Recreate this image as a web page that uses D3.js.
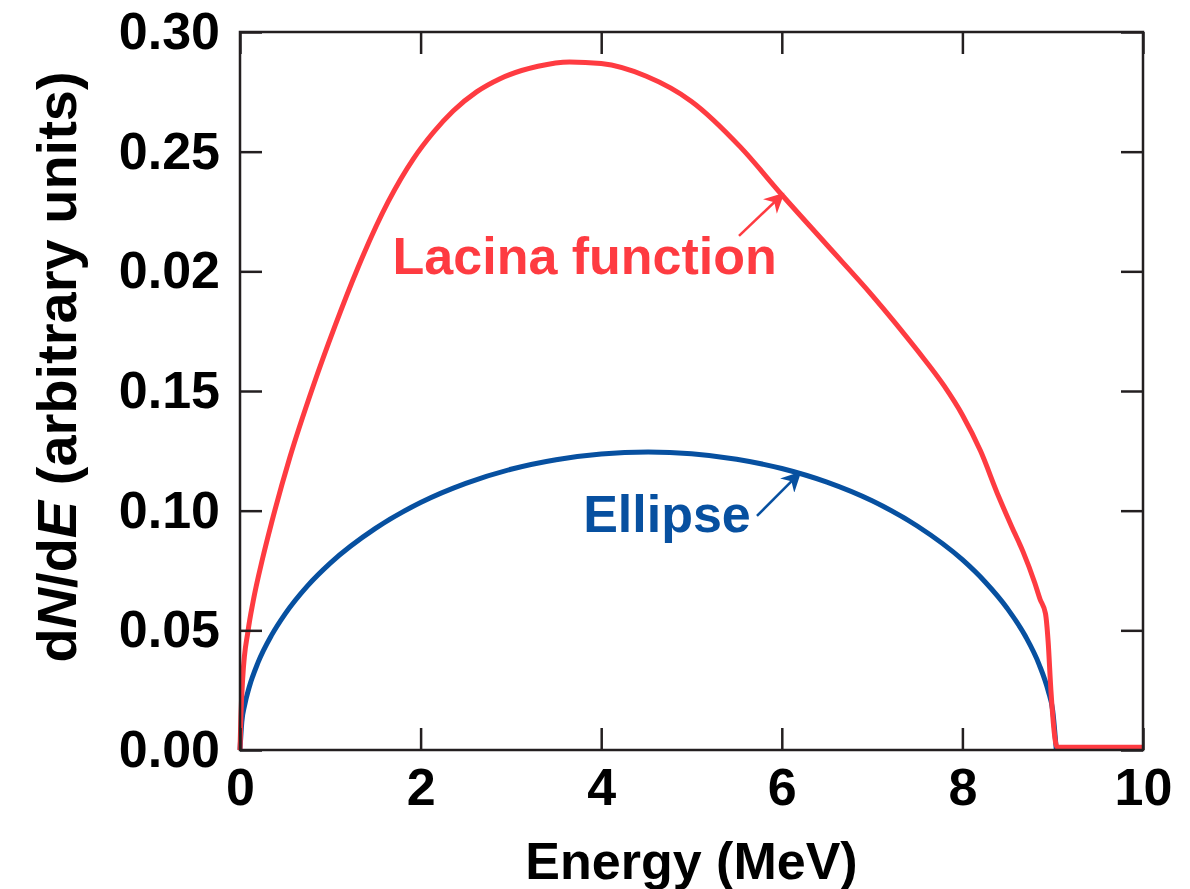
<!DOCTYPE html>
<html>
<head>
<meta charset="utf-8">
<script src="https://cdn.jsdelivr.net/npm/d3@7"></script>
<style>
  body { margin: 0; background: #fff; }
  text { font-family: "Liberation Sans", Arial, Helvetica, sans-serif; font-weight: bold; }
</style>
</head>
<body>
<svg id="chart" width="1190" height="889"></svg>
<script>
// values
var energy_lacina = [0, 0.01, 0.03, 0.09, 0.145, 0.25, 0.35, 0.55, 0.81, 1.05, 1.3, 1.64, 1.92, 2.14, 2.36, 2.62, 2.88, 3.3, 3.65,
  4.0, 4.5, 5.0, 5.54, 6.0, 6.5, 7.0, 7.5, 7.8, 8.0, 8.2, 8.4, 8.55, 8.67, 8.8, 8.86, 8.92, 8.95, 8.98, 9.05, 9.5, 10];
var dnde_lacina = [0, 0.014, 0.03, 0.05, 0.062, 0.08, 0.095, 0.122, 0.152, 0.177, 0.201, 0.229, 0.247, 0.258, 0.267, 0.275, 0.2805, 0.2857, 0.2875,
  0.2868, 0.2815, 0.271, 0.252, 0.232, 0.211, 0.19, 0.167, 0.152, 0.14, 0.125, 0.106, 0.093, 0.083, 0.07, 0.063, 0.057, 0.045, 0.025, 0.0012, 0.0012, 0.0012];

var energy_ellipse = [0, 0.02, 0.05, 0.1, 0.2, 0.35, 0.5, 0.75, 1.0, 1.5, 2.0, 2.5, 3.0, 3.5, 4.0, 4.52,
  5.0, 5.5, 6.0, 6.5, 7.0, 7.5, 8.0, 8.25, 8.5, 8.7, 8.85, 8.95, 9.0, 9.04];
var dnde_ellipse = [0, 0.0117, 0.0185, 0.026, 0.0366, 0.048, 0.0569, 0.0687, 0.0781, 0.0926, 0.1034, 0.1114, 0.1173, 0.1213, 0.1237, 0.1245,
  0.1238, 0.1215, 0.1176, 0.1119, 0.1041, 0.0936, 0.0795, 0.0703, 0.059, 0.0474, 0.0357, 0.0247, 0.0165, 0];

var xTicks = [0, 2, 4, 6, 8, 10];
var yTicks = [0, 0.05, 0.10, 0.15, 0.20, 0.25, 0.30];
var yTickLabels = ["0.00", "0.05", "0.10", "0.15", "0.02", "0.25", "0.30"];

var red = "#fe3b41", blue = "#0750a0", ink = "#231f20";

var svg = d3.select("#chart");
var margin = { left: 240, top: 32, right: 47, bottom: 139 };
var W = 1190 - margin.left - margin.right;
var H = 889 - margin.top - margin.bottom;

var x = d3.scaleLinear().domain([0, 10]).range([0, W]);
var y = d3.scaleLinear().domain([0, 0.30]).range([H, 0]);

var g = svg.append("g").attr("transform", `translate(${margin.left},${margin.top})`);

// curves
var line = d3.line()
  .x(function (d) { return x(d[0]); })
  .y(function (d) { return y(d[1]); })
  .curve(d3.curveMonotoneX);

g.append("path")
  .datum(d3.zip(energy_ellipse, dnde_ellipse))
  .attr("d", line)
  .attr("fill", "none")
  .attr("stroke", blue)
  .attr("stroke-width", 5);

g.append("path")
  .datum(d3.zip(energy_lacina, dnde_lacina))
  .attr("d", line)
  .attr("fill", "none")
  .attr("stroke", red)
  .attr("stroke-width", 5)
  .attr("stroke-linejoin", "round");

// axes, ticks inward on all four sides
function styleAxis(sel) {
  sel.select(".domain").remove();
  sel.selectAll(".tick line").attr("stroke", ink).attr("stroke-width", 2.5);
  sel.selectAll("text").attr("fill", "#000").style("font-size", "52px");
}

g.append("g").attr("transform", `translate(0,${H})`)
  .call(d3.axisBottom(x).tickValues(xTicks).tickFormat(d3.format("d")).tickSizeInner(-22).tickSizeOuter(0).tickPadding(18))
  .call(styleAxis);
g.append("g")
  .call(d3.axisLeft(y).tickValues(yTicks).tickFormat(function (d, i) { return yTickLabels[i]; })
    .tickSizeInner(-22).tickSizeOuter(0).tickPadding(20))
  .call(styleAxis);
g.append("g")
  .call(d3.axisTop(x).tickValues(xTicks).tickFormat("").tickSizeInner(-22).tickSizeOuter(0))
  .call(styleAxis);
g.append("g").attr("transform", `translate(${W},0)`)
  .call(d3.axisRight(y).tickValues(yTicks).tickFormat("").tickSizeInner(-22).tickSizeOuter(0))
  .call(styleAxis);

g.append("rect")
  .attr("width", W).attr("height", H)
  .attr("fill", "none").attr("stroke", ink).attr("stroke-width", 2.5);

// axis titles
svg.append("text")
  .attr("x", margin.left + W / 2).attr("y", 879)
  .attr("text-anchor", "middle").style("font-size", "52px")
  .text("Energy (MeV)");

var ylab = svg.append("text")
  .attr("transform", "translate(76,367) rotate(-90)")
  .attr("text-anchor", "middle").style("font-size", "56px");
ylab.append("tspan").text("d");
ylab.append("tspan").style("font-style", "italic").text("N");
ylab.append("tspan").text("/d");
ylab.append("tspan").style("font-style", "italic").text("E");
ylab.append("tspan").text(" (arbitrary units)");

// annotations
var defs = svg.append("defs");
[["headRed", red], ["headBlue", blue]].forEach(function (m) {
  defs.append("marker")
    .attr("id", m[0]).attr("viewBox", "0 0 10 10")
    .attr("refX", 9).attr("refY", 5)
    .attr("markerWidth", 10).attr("markerHeight", 8)
    .attr("markerUnits", "strokeWidth")
    .attr("orient", "auto")
    .append("path").attr("d", "M0,0 L10,5 L0,10 L3,5 Z").attr("fill", m[1]);
});

g.append("text")
  .attr("x", x(1.69)).attr("y", y(0.199))
  .attr("fill", red).style("font-size", "52px")
  .text("Lacina function");
g.append("line")
  .attr("x1", x(5.526)).attr("y1", y(0.2148))
  .attr("x2", x(6.013)).attr("y2", y(0.2323))
  .attr("stroke", red).attr("stroke-width", 2.5)
  .attr("marker-end", "url(#headRed)");

g.append("text")
  .attr("x", x(3.80)).attr("y", y(0.0911))
  .attr("fill", blue).style("font-size", "52px")
  .text("Ellipse");
g.append("line")
  .attr("x1", x(5.725)).attr("y1", y(0.0978))
  .attr("x2", x(6.2)).attr("y2", y(0.1158))
  .attr("stroke", blue).attr("stroke-width", 2.5)
  .attr("marker-end", "url(#headBlue)");
</script>
</body>
</html>
